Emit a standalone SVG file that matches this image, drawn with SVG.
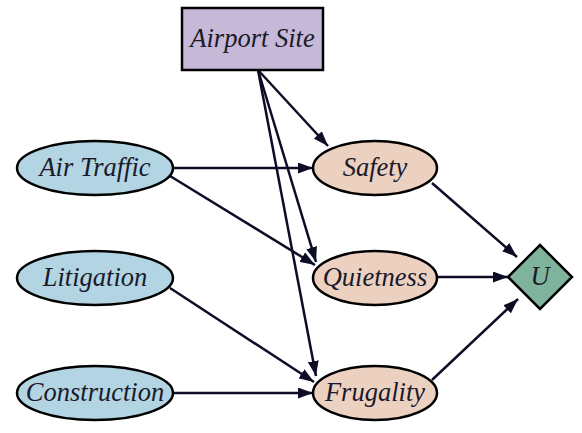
<svg xmlns="http://www.w3.org/2000/svg" width="582" height="433" viewBox="0 0 582 433">
<defs>
<style>
.lbl{font-style:italic;font-size:26.5px;fill:#1a1a2a;text-anchor:middle}
.chance{fill:#b2d4e3;stroke:#000;stroke-width:2.5}
.util{fill:#ecd0c0;stroke:#000;stroke-width:2.5}
.edge{stroke:#0d0d26;stroke-width:2.5;fill:none;marker-end:url(#ah)}
</style>
<marker id="ah" markerUnits="userSpaceOnUse" markerWidth="15" markerHeight="11" refX="15" refY="5.5" orient="auto">
<path d="M0,0 L15,5.5 L0,11 Z" fill="#0d0d26"/>
</marker>
</defs>
<g id="connectors">
<line class="edge" x1="258" y1="70" x2="328" y2="146"/>
<line class="edge" x1="258" y1="70" x2="316" y2="262"/>
<line class="edge" x1="258" y1="70" x2="316" y2="376"/>
<line class="edge" x1="173" y1="168" x2="313" y2="168"/>
<line class="edge" x1="170" y1="176" x2="315" y2="265"/>
<line class="edge" x1="170" y1="288" x2="314" y2="382"/>
<line class="edge" x1="173" y1="393" x2="313" y2="393"/>
<line class="edge" x1="432" y1="183" x2="517" y2="257"/>
<line class="edge" x1="437" y1="277" x2="508" y2="277"/>
<line class="edge" x1="432" y1="380" x2="518" y2="299"/>
</g>
<g font-family="Liberation Serif, Times New Roman, serif">
<g id="airport-site">
<rect x="182" y="8" width="141" height="62" fill="#c6b9d8" stroke="#000" stroke-width="2.5"/>
<text class="lbl" x="252.5" y="47">Airport Site</text>
</g>
<g id="air-traffic">
<ellipse class="chance" cx="95" cy="168" rx="78" ry="27"/>
<text class="lbl" x="95" y="176">Air Traffic</text>
</g>
<g id="litigation">
<ellipse class="chance" cx="95" cy="278" rx="78" ry="27"/>
<text class="lbl" x="95" y="286">Litigation</text>
</g>
<g id="construction">
<ellipse class="chance" cx="95" cy="393" rx="78" ry="27"/>
<text class="lbl" x="95" y="401">Construction</text>
</g>
<g id="safety">
<ellipse class="util" cx="375" cy="168" rx="62" ry="27"/>
<text class="lbl" x="375" y="176">Safety</text>
</g>
<g id="quietness">
<ellipse class="util" cx="375" cy="278" rx="62" ry="27"/>
<text class="lbl" x="375" y="286">Quietness</text>
</g>
<g id="frugality">
<ellipse class="util" cx="375" cy="393" rx="62" ry="27"/>
<text class="lbl" x="375" y="401">Frugality</text>
</g>
<g id="u">
<polygon points="540,245 572,277 540,309 508,277" fill="#80b39b" stroke="#000" stroke-width="2.5"/>
<text class="lbl" x="540" y="285">U</text>
</g>
</g>
</svg>
